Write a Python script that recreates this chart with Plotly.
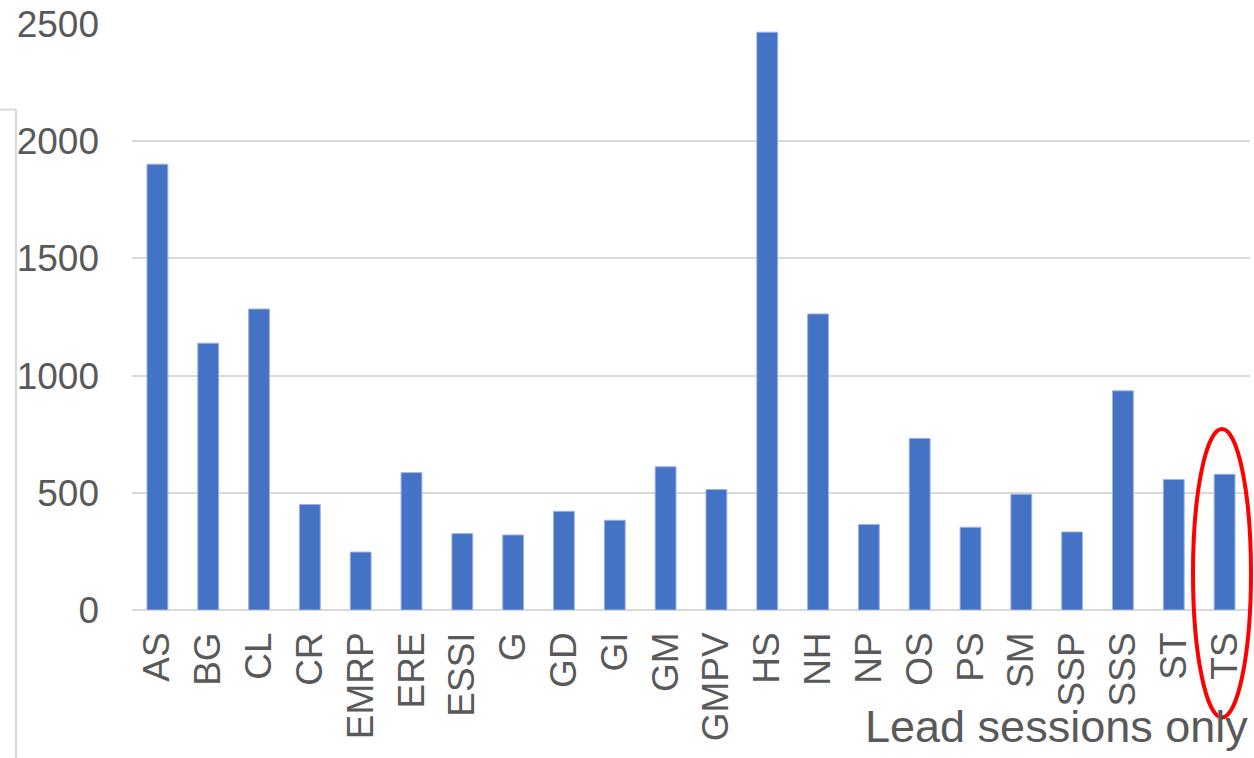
import plotly.graph_objects as go

categories = ["AS", "BG", "CL", "CR", "EMRP", "ERE", "ESSI", "G", "GD", "GI", "GM",
              "GMPV", "HS", "NH", "NP", "OS", "PS", "SM", "SSP", "SSS", "ST", "TS"]
values = [1902, 1138, 1284, 450, 247, 586, 326, 320, 421, 383, 611,
          514, 2465, 1263, 365, 732, 353, 494, 333, 935, 557, 579]
y_ticks = [0, 500, 1000, 1500, 2000, 2500]
note_text = "Lead sessions only"

W, H = 1254, 758
L, R, T, B = 132, 4, 21, 148
pw, ph = W - L - R, H - T - B


def px(x):
    return (x - L) / pw


def py(y):
    return (H - B - y) / ph


fig = go.Figure(go.Bar(
    x=categories, y=values,
    marker=dict(color="#4472C4", line=dict(color="#9db3e0", width=1)),
))

grey = "#d9d9d9"
fig.update_layout(
    width=W, height=H,
    margin=dict(l=L, r=R, t=T, b=B, pad=0),
    paper_bgcolor="white", plot_bgcolor="white",
    bargap=0.59, showlegend=False,
    font=dict(family="Liberation Sans, Arial, sans-serif", color="#595959"),
    xaxis=dict(type="category", showgrid=False, showline=False, ticks="",
               tickangle=-90, tickfont=dict(size=37, color="#595959"),
               ticklabelstandoff=14, zeroline=False),
    yaxis=dict(range=[0, 2500], tickvals=y_ticks, showgrid=True, gridcolor=grey,
               gridwidth=1.5, zeroline=True, zerolinecolor=grey, zerolinewidth=2,
               showline=False, ticks="", tickfont=dict(size=37, color="#595959"),
               ticklabelstandoff=32),
)

# partial frame on the left
fig.add_shape(type="line", xref="paper", yref="paper",
              x0=px(16), x1=px(16), y0=py(107), y1=py(760),
              line=dict(color=grey, width=2))
fig.add_shape(type="line", xref="paper", yref="paper",
              x0=px(-2), x1=px(16), y0=py(107), y1=py(107),
              line=dict(color=grey, width=2))

# red ellipse around TS
fig.add_shape(type="circle", xref="paper", yref="paper",
              x0=px(1193), x1=px(1251), y0=py(718), y1=py(428),
              line=dict(color="#ff0000", width=4))

fig.add_annotation(text=note_text, xref="paper", yref="paper",
                   x=px(1250), y=py(745), xanchor="right", yanchor="bottom",
                   showarrow=False, yshift=-10,
                   font=dict(size=45, color="#595959"))

fig.write_html("out.html", config={"displayModeBar": False},
               post_script="document.body.style.margin='0';document.body.style.overflow='hidden';")
